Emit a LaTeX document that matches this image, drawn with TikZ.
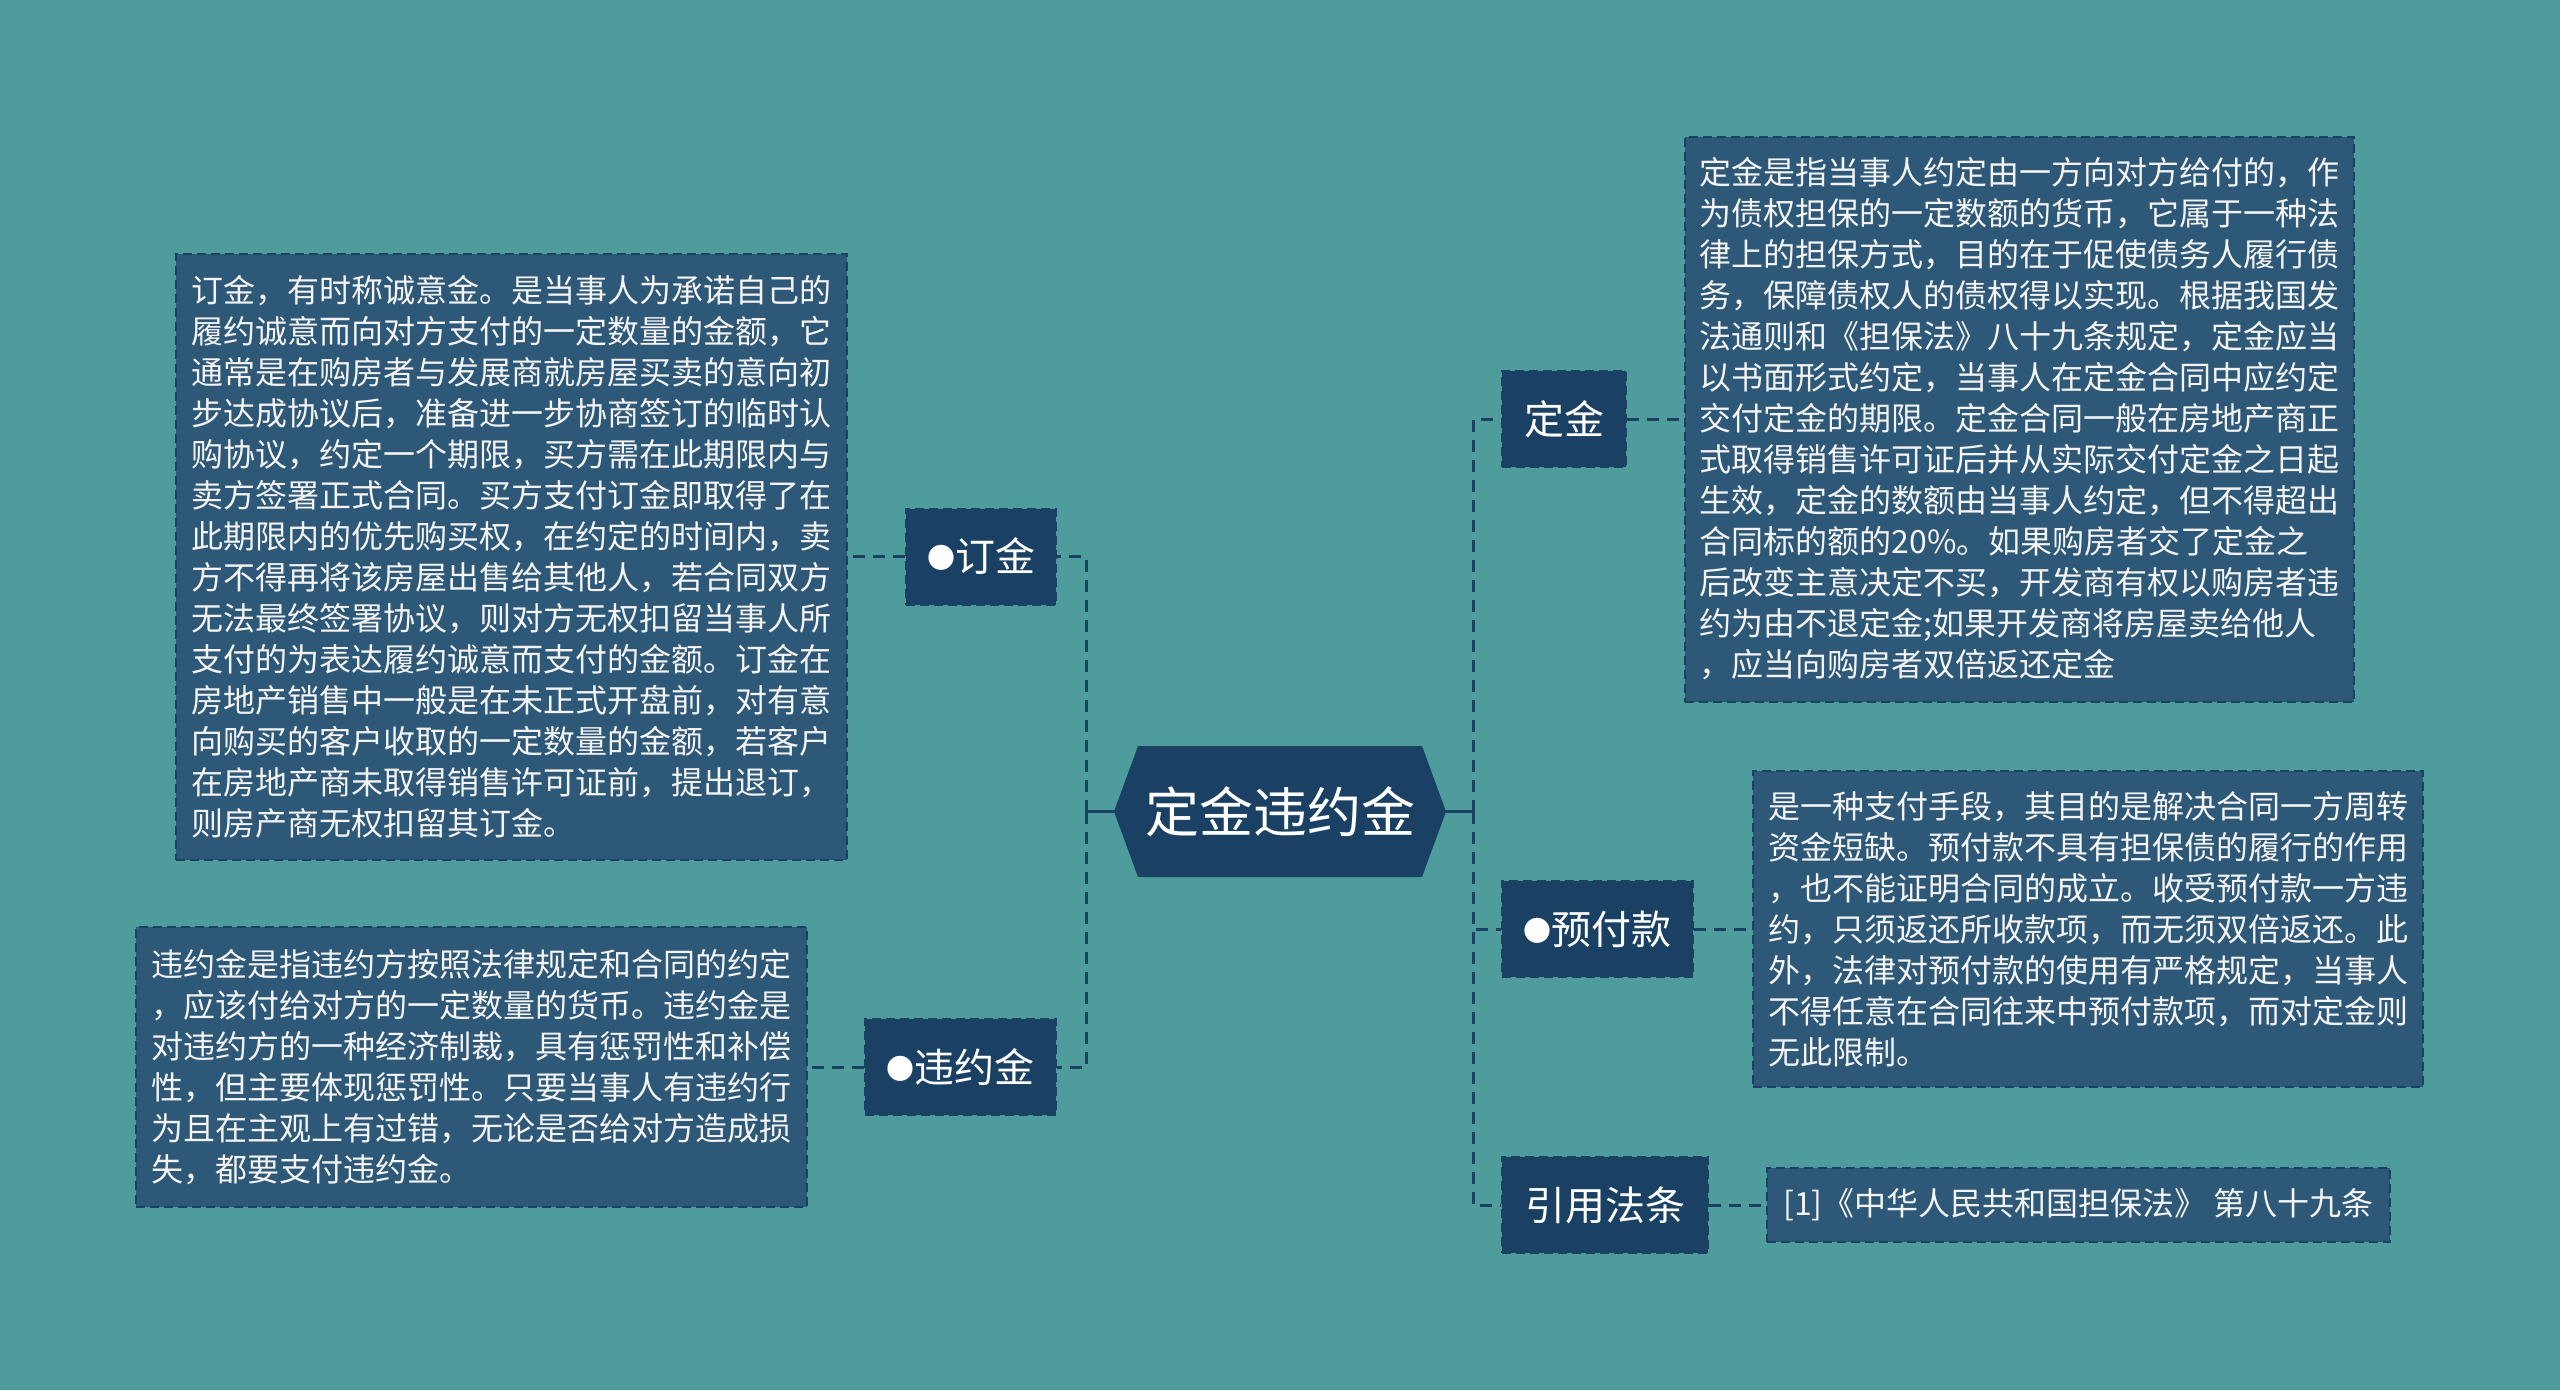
\documentclass[tikz,border=0pt]{standalone}
\usepackage{fontspec}
\newfontfamily\cjk{Noto Sans CJK SC}
\definecolor{bgc}{HTML}{4E9C9C}
\definecolor{nodec}{HTML}{1A4163}
\definecolor{boxc}{HTML}{2E5878}
\definecolor{linec}{HTML}{1A4163}
\definecolor{txtc}{HTML}{F4F4F4}
\newcommand{\bul}{\raisebox{3pt}{\fontsize{28}{28}\selectfont ●}}
\tikzset{
  desc/.style={draw=linec, line width=2pt, dash pattern=on 9pt off 5pt, fill=boxc, text=txtc,
    font=\cjk\fontsize{32}{41}\selectfont, align=left, inner sep=0pt},
  branch/.style={draw=linec, line width=2pt, dash pattern=on 9pt off 5pt, fill=nodec, text=white,
    font=\cjk\fontsize{40}{48}\selectfont, inner sep=0pt, minimum height=96pt},
  conn/.style={draw=linec, line width=3pt, dash pattern=on 12pt off 8pt},
  connsolid/.style={draw=linec, line width=3pt}
}
\begin{document}
\begin{tikzpicture}[x=1pt,y=-1pt]
\useasboundingbox (0,0) rectangle (2560,1390);
\fill[bgc] (0,0) rectangle (2560,1390);

% central hexagon
\fill[nodec] (1114,811.5) -- (1138,746) -- (1422,746) -- (1446,811.5) -- (1422,877) -- (1138,877) -- cycle;
\node[minimum width=332pt, minimum height=131pt, inner sep=0pt, text=white,
  font=\cjk\fontsize{54}{60}\selectfont] (center) at (1280,811.5) {定金违约金};

% branch nodes
\node[branch, minimum width=150pt] (dingjin) at (981,556.5) {\bul 订金};
\node[branch, minimum width=191pt] (weiyue) at (960.5,1067) {\bul 违约金};
\node[branch, minimum width=124pt] (ding) at (1564,419) {定金};
\node[branch, minimum width=191pt] (yufu) at (1597.5,929) {\bul 预付款};
\node[branch, minimum width=206pt] (yinyong) at (1605,1205) {引用法条};

% description boxes
\node[desc, minimum width=671pt, minimum height=606pt] (dingjintxt) at (511.5,556.5) {%
订金，有时称诚意金。是当事人为承诺自己的\\
履约诚意而向对方支付的一定数量的金额，它\\
通常是在购房者与发展商就房屋买卖的意向初\\
步达成协议后，准备进一步协商签订的临时认\\
购协议，约定一个期限，买方需在此期限内与\\
卖方签署正式合同。买方支付订金即取得了在\\
此期限内的优先购买权，在约定的时间内，卖\\
方不得再将该房屋出售给其他人，若合同双方\\
无法最终签署协议，则对方无权扣留当事人所\\
支付的为表达履约诚意而支付的金额。订金在\\
房地产销售中一般是在未正式开盘前，对有意\\
向购买的客户收取的一定数量的金额，若客户\\
在房地产商未取得销售许可证前，提出退订，\\
则房产商无权扣留其订金。};

\node[desc, minimum width=671pt, minimum height=280pt] (weiyuetxt) at (471.5,1067) {%
违约金是指违约方按照法律规定和合同的约定\\
，应该付给对方的一定数量的货币。违约金是\\
对违约方的一种经济制裁，具有惩罚性和补偿\\
性，但主要体现惩罚性。只要当事人有违约行\\
为且在主观上有过错，无论是否给对方造成损\\
失，都要支付违约金。};

\node[desc, minimum width=669pt, minimum height=565pt] (dingtxt) at (2019.5,419) {%
定金是指当事人约定由一方向对方给付的，作\\
为债权担保的一定数额的货币，它属于一种法\\
律上的担保方式，目的在于促使债务人履行债\\
务，保障债权人的债权得以实现。根据我国发\\
法通则和《担保法》八十九条规定，定金应当\\
以书面形式约定，当事人在定金合同中应约定\\
交付定金的期限。定金合同一般在房地产商正\\
式取得销售许可证后并从实际交付定金之日起\\
生效，定金的数额由当事人约定，但不得超出\\
合同标的额的20\%。如果购房者交了定金之\\
后改变主意决定不买，开发商有权以购房者违\\
约为由不退定金;如果开发商将房屋卖给他人\\
，应当向购房者双倍返还定金};

\node[desc, minimum width=670pt, minimum height=316pt] (yufutxt) at (2088,929) {%
是一种支付手段，其目的是解决合同一方周转\\
资金短缺。预付款不具有担保债的履行的作用\\
，也不能证明合同的成立。收受预付款一方违\\
约，只须返还所收款项，而无须双倍返还。此\\
外，法律对预付款的使用有严格规定，当事人\\
不得任意在合同往来中预付款项，而对定金则\\
无此限制。};

\node[desc, minimum width=623pt, minimum height=74pt] (yinyongtxt) at (2078.5,1205) {%
[1]《中华人民共和国担保法》 第八十九条};

% connectors
\coordinate (lj) at (1086,811.5);
\coordinate (rj) at (1473,811.5);
\draw[connsolid] (center.west) -- (lj);
\draw[connsolid] (center.east) -- (rj);
\draw[conn] (lj) |- (dingjin.east);
\draw[conn] (lj) |- (weiyue.east);
\draw[conn] (rj) |- (ding.west);
\draw[conn] (rj) |- (yufu.west);
\draw[conn] (rj) |- (yinyong.west);
\draw[conn] (dingjin.west) -- (dingjintxt.east);
\draw[conn] (weiyue.west) -- (weiyuetxt.east);
\draw[conn] (ding.east) -- (dingtxt.west);
\draw[conn] (yufu.east) -- (yufutxt.west);
\draw[conn] (yinyong.east) -- (yinyongtxt.west);
\end{tikzpicture}
\end{document}
